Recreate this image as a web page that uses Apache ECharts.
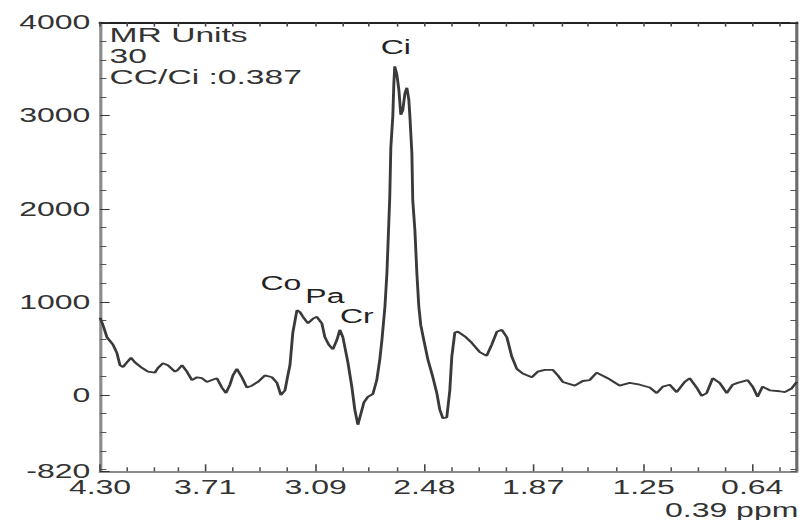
<!DOCTYPE html>
<html>
<head>
<meta charset="utf-8">
<title>MR spectrum</title>
<script src="https://cdn.jsdelivr.net/npm/echarts@6/dist/echarts.min.js"></script>
<style>
  html, body { margin: 0; padding: 0; background: #fff; overflow: hidden; }
  /* the reference picture is stretched sideways, so the chart is too */
  #main { width: 502px; height: 520px; transform: scaleX(1.6); transform-origin: 0 0; }
</style>
</head>
<body>
<div id="main"></div>
<script>
// chemical shift (ppm) and signal (MR units)
var shiftPpm = [
  4.30, 4.283, 4.261, 4.244, 4.227, 4.205, 4.188, 4.171, 4.149, 4.126, 4.104, 4.064, 4.031,
  3.992, 3.975, 3.947, 3.919, 3.879, 3.863, 3.840, 3.812, 3.784, 3.756, 3.728, 3.700, 3.672,
  3.644, 3.616, 3.593, 3.571, 3.554, 3.532, 3.504, 3.476, 3.448, 3.414, 3.375, 3.335, 3.307,
  3.285, 3.262, 3.246, 3.234, 3.218, 3.195, 3.178, 3.161, 3.133, 3.105, 3.083, 3.055, 3.038,
  3.016, 2.993, 2.971, 2.954, 2.937, 2.909, 2.887, 2.870, 2.853, 2.836, 2.819, 2.797, 2.769,
  2.747, 2.730, 2.718, 2.701, 2.690, 2.685, 2.674, 2.668, 2.657, 2.651, 2.646, 2.634, 2.623,
  2.612, 2.601, 2.589, 2.578, 2.567, 2.561, 2.550, 2.545, 2.533, 2.522, 2.511, 2.500, 2.483,
  2.460, 2.432, 2.410, 2.393, 2.376, 2.354, 2.337, 2.326, 2.309, 2.292, 2.253, 2.214, 2.169,
  2.130, 2.102, 2.073, 2.045, 2.017, 1.989, 1.961, 1.928, 1.877, 1.844, 1.804, 1.759, 1.731,
  1.703, 1.636, 1.591, 1.552, 1.513, 1.451, 1.384, 1.328, 1.271, 1.215, 1.176, 1.142, 1.103,
  1.064, 1.019, 0.991, 0.952, 0.924, 0.896, 0.862, 0.823, 0.783, 0.750, 0.722, 0.666, 0.638,
  0.610, 0.582, 0.542, 0.486, 0.458, 0.419, 0.39
];
var signal = [
  830, 750, 620, 580, 540, 450, 320, 300, 350, 400, 350, 290, 250,
  240, 290, 340, 320, 250, 270, 320, 250, 160, 190, 180, 140, 160,
  180, 80, 20, 110, 210, 280, 190, 80, 100, 140, 210, 190, 130,
  0, 50, 210, 320, 670, 910, 890, 840, 770, 820, 840, 770, 620,
  540, 490, 590, 700, 620, 350, 90, -160, -320, -200, -80, -20, 10,
  160, 380, 590, 950, 1310, 1560, 2130, 2660, 2990, 3350, 3530, 3440, 3280,
  3010, 3060, 3240, 3300, 3170, 2990, 2600, 2090, 1770, 1310, 950, 750, 590,
  380, 190, 20, -160, -250, -240, 50, 410, 670, 680, 630, 560, 460,
  420, 540, 680, 700, 620, 410, 280, 230, 190, 250, 270, 270, 210,
  140, 100, 150, 160, 240, 180, 100, 130, 110, 80, 20, 90, 110,
  30, 140, 180, 80, -10, 20, 180, 130, 20, 110, 130, 160, 90,
  -20, 90, 50, 40, 30, 70, 140
];

// metabolite labels and where they sit (ppm, MR units)
var peakNames = ['Co', 'Pa', 'Cr', 'Ci'];
var peakPpm = [3.285, 3.038, 2.859, 2.640];
var peakLevel = [1200, 1060, 850, 3740];

// tick marks
var xLabelTicks = [4.30, 3.71, 3.09, 2.48, 1.87, 1.25, 0.64];
var xMinorTicks = [4.15, 4.00, 3.86, 3.56, 3.40, 3.25, 2.94, 2.79, 2.63, 2.33, 2.17, 2.02,
                   1.71, 1.56, 1.40, 1.10, 0.94, 0.79, 0.49];
var yLabelTicks = [-820, 0, 1000, 2000, 3000, 4000];
var yMinorTicks = [-800, -600, -400, -200, 200, 400, 600, 800, 1200, 1400, 1600, 1800,
                   2200, 2400, 2600, 2800, 3200, 3400, 3600, 3800];

var infoLines = ['MR Units', '30', 'CC/Ci :0.387'];

var FONT = '"Liberation Sans", Arial, sans-serif';
var TEXT = '#333';

var chartDom = document.getElementById('main');
var myChart = echarts.init(chartDom, null, { renderer: 'svg', width: 502, height: 520 });

var gridBox = { left: 62.5, right: 4, top: 22.6, bottom: 48.7 };
var xRange = { type: 'value', min: 0.39, max: 4.30, inverse: true, splitLine: { show: false } };
var yRange = { type: 'value', min: -820, max: 4000, splitLine: { show: false } };

var lineData = shiftPpm.map(function (p, i) { return [p, signal[i]]; });
var peakData = peakNames.map(function (n, i) {
  return { name: n, coord: [peakPpm[i], peakLevel[i]] };
});

var option = {
  animation: false,
  backgroundColor: '#fff',
  grid: [
    Object.assign({}, gridBox),
    Object.assign({}, gridBox)
  ],
  xAxis: [
    Object.assign({}, xRange, {
      gridIndex: 0, position: 'bottom',
      axisLine: { onZero: false, lineStyle: { color: '#8c8c8c', width: 2 } },
      axisTick: { inside: true, length: 7, customValues: xLabelTicks, lineStyle: { color: '#444' } },
      axisLabel: {
        customValues: xLabelTicks, margin: 6, fontSize: 20, fontFamily: FONT, color: TEXT,
        formatter: function (v) { return v.toFixed(2); }
      }
    }),
    Object.assign({}, xRange, {
      gridIndex: 0, position: 'top',
      axisLine: { onZero: false, lineStyle: { color: '#222', width: 2 } },
      axisTick: { inside: true, length: 4, customValues: xLabelTicks.concat(xMinorTicks), lineStyle: { color: '#444' } },
      axisLabel: { show: false }
    }),
    Object.assign({}, xRange, {
      gridIndex: 1, position: 'bottom',
      axisLine: { show: false, onZero: false },
      axisTick: { inside: true, length: 4, customValues: xMinorTicks, lineStyle: { color: '#555' } },
      axisLabel: { show: false }
    })
  ],
  yAxis: [
    Object.assign({}, yRange, {
      gridIndex: 0, position: 'left',
      axisLine: { show: true, onZero: false, lineStyle: { color: '#8c8c8c', width: 2 } },
      axisTick: { show: true, inside: true, length: 6, customValues: yLabelTicks, lineStyle: { color: '#333' } },
      axisLabel: {
        customValues: yLabelTicks, margin: 6, fontSize: 20, fontFamily: FONT, color: TEXT,
        formatter: function (v) { return String(v); }
      }
    }),
    Object.assign({}, yRange, {
      gridIndex: 0, position: 'right',
      axisLine: { show: true, onZero: false, lineStyle: { color: '#6e6e6e', width: 2 } },
      axisTick: { show: true, inside: true, length: 4, customValues: yLabelTicks.concat(yMinorTicks), lineStyle: { color: '#555' } },
      axisLabel: { show: false }
    }),
    Object.assign({}, yRange, {
      gridIndex: 1, position: 'left',
      axisLine: { show: false, onZero: false },
      axisTick: { show: true, inside: true, length: 4, customValues: yMinorTicks, lineStyle: { color: '#555' } },
      axisLabel: { show: false }
    })
  ],
  graphic: [
    {
      type: 'text', left: 68.5, top: 24,
      style: { text: infoLines.join('\n'), font: '21px ' + FONT, lineHeight: 21, fill: TEXT }
    },
    {
      type: 'text', right: 3, top: 500,
      style: { text: '0.39 ppm', font: '20px ' + FONT, fill: TEXT }
    }
  ],
  series: [
    {
      type: 'line',
      xAxisIndex: 0,
      yAxisIndex: 0,
      data: lineData,
      showSymbol: false,
      lineStyle: { color: '#3a3a3a', width: 1.8 },
      markPoint: {
        symbol: 'circle',
        symbolSize: 0,
        label: {
          show: true, position: 'inside', formatter: '{b}',
          fontSize: 20, fontFamily: FONT, color: '#222'
        },
        data: peakData
      }
    }
  ]
};

option && myChart.setOption(option);
</script>
</body>
</html>
